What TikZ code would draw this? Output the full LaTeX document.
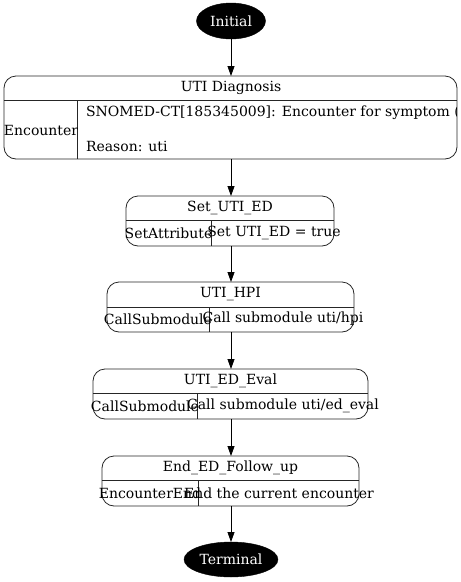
\documentclass[tikz,border=0pt]{standalone}
\usepackage{fontspec}
\setmainfont{DejaVu Serif}
\usetikzlibrary{shapes.geometric,arrows.meta}
\begin{document}
\begin{tikzpicture}[x=1pt,y=-1pt,
  every node/.style={font=\fontsize{14}{16}\selectfont, inner sep=0pt, outer sep=0pt},
  term/.style={ellipse, fill=black, text=white, draw=black},
  box/.style={draw=black!85, line width=0.8pt, rounded corners=12pt, rectangle},
  div/.style={draw=black!85, line width=0.8pt},
  conn/.style={draw=black, line width=0.8pt, -{Triangle[length=10pt,width=7pt]}}]
\useasboundingbox (0,0) rectangle (461,582);
% Initial
\node[term, minimum width=69pt, minimum height=36pt] (init) at (231,21) {Initial};
% UTI Diagnosis
\node[box, minimum width=453pt, minimum height=83pt] (diag) at (230.5,117.5) {};
\draw[div] (diag.west |- 0,100) -- (diag.east |- 0,100);
\draw[div] (77.7,100) -- (77.7,159);
\node (diagt) at (231,88) {UTI Diagnosis};
\node (diagl) at (41,130) {Encounter};
\begin{scope}
\clip (77.7,100) rectangle (456.5,159);
\node[anchor=west] (diagr1) at (86,113) {SNOMED-CT[185345009]: Encounter for symptom (procedure)};
\end{scope}
\node[anchor=west] (diagr2) at (86,146) {Reason: uti};
% Set_UTI_ED
\node[box, minimum width=208pt, minimum height=50pt] (set) at (230,221) {};
\draw[div] (set.west |- 0,220) -- (set.east |- 0,220);
\draw[div] (211,220) -- (211,246);
\node (sett) at (230,208) {Set\_UTI\_ED};
\node (setl) at (168.5,233) {SetAttribute};
\node (setr) at (274,233) {Set UTI\_ED = true};
% UTI_HPI
\node[box, minimum width=247pt, minimum height=50pt] (hpi) at (230.5,307) {};
\draw[div] (hpi.west |- 0,307) -- (hpi.east |- 0,307);
\draw[div] (209,307) -- (209,332);
\node (hpit) at (230.5,294) {UTI\_HPI};
\node (hpil) at (158,319) {CallSubmodule};
\node (hpir) at (283,319) {Call submodule uti/hpi};
% UTI_ED_Eval
\node[box, minimum width=275pt, minimum height=50pt] (eval) at (230.5,394) {};
\draw[div] (eval.west |- 0,393) -- (eval.east |- 0,393);
\draw[div] (197,393) -- (197,419);
\node (evalt) at (230.5,381) {UTI\_ED\_Eval};
\node (evall) at (145,406) {CallSubmodule};
\node (evalr) at (283,406) {Call submodule uti/ed\_eval};
% End_ED_Follow_up
\node[box, minimum width=257pt, minimum height=50pt] (endn) at (230.5,481) {};
\draw[div] (endn.west |- 0,480) -- (endn.east |- 0,480);
\draw[div] (198,480) -- (198,506);
\node (endt) at (230.5,468) {End\_ED\_Follow\_up};
\node (endl) at (150,493) {EncounterEnd};
\node (endr) at (279,493) {End the current encounter};
% Terminal
\node[term, minimum width=94pt, minimum height=35pt] (term) at (231,559.5) {Terminal};
% connectors
\draw[conn] (init) -- (diag.north -| init);
\draw[conn] (diag.south -| init) -- (set.north -| init);
\draw[conn] (set.south -| init) -- (hpi.north -| init);
\draw[conn] (hpi.south -| init) -- (eval.north -| init);
\draw[conn] (eval.south -| init) -- (endn.north -| init);
\draw[conn] (endn.south -| init) -- (term);
\end{tikzpicture}
\end{document}
